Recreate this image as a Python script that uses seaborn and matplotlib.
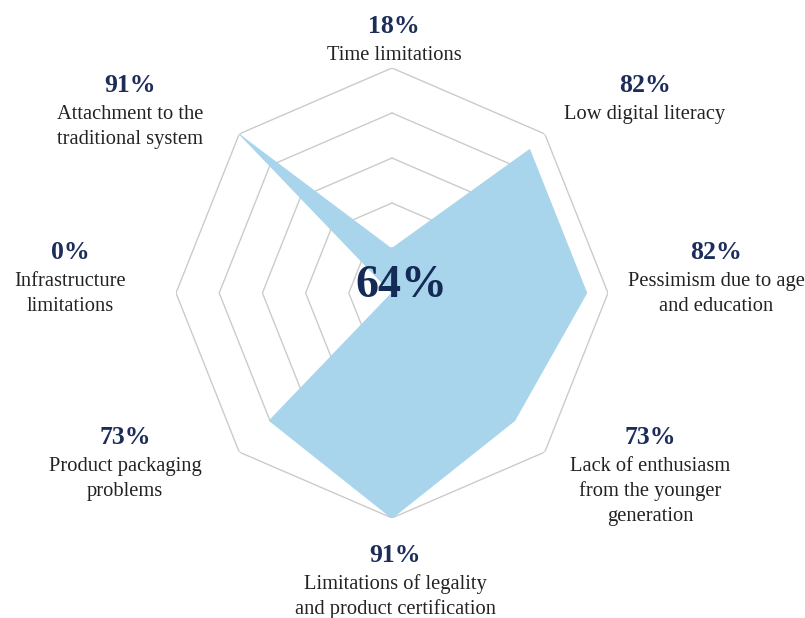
import numpy as np
import pandas as pd
import matplotlib
matplotlib.use("Agg")
import matplotlib.pyplot as plt
import seaborn as sns

# ---- data ----
categories = [
    "Time limitations",
    "Low digital literacy",
    "Pessimism due to age\nand education",
    "Lack of enthusiasm\nfrom the younger\ngeneration",
    "Limitations of legality\nand product certification",
    "Product packaging\nproblems",
    "Infrastructure\nlimitations",
    "Attachment to the\ntraditional system",
]
values = [18, 82, 82, 73, 91, 73, 0, 91]
pct_labels = ["18%", "82%", "82%", "73%", "91%", "73%", "0%", "91%"]
center_label = "64%"
n_rings = 5

sns.set_theme(style="white")
plt.rcParams["font.family"] = ["Liberation Serif", "DejaVu Serif"]

W, H = 805, 618
fig = plt.figure(figsize=(W / 100, H / 100), dpi=100)
fig.patch.set_facecolor("white")

cx, rx = 392, 216
top_px, bot_px = 68, 518
ax = fig.add_axes([(cx - rx) / W, (H - bot_px) / H, 2 * rx / W, (bot_px - top_px) / H],
                  projection="polar")
ax.set_aspect("auto")
ax.set_theta_zero_location("N")
ax.set_theta_direction(-1)
rmax = max(values)
ax.set_ylim(0, rmax)

n = len(categories)
theta = np.linspace(0, 2 * np.pi, n, endpoint=False)
theta_c = np.append(theta, theta[0])

# octagonal grid rings
for k in range(1, n_rings + 1):
    r = rmax * k / n_rings
    ax.plot(theta_c, np.full(n + 1, r), color="#cbcbcb", lw=1.0, zorder=1)

df = pd.DataFrame({"theta": theta_c, "value": values + [values[0]]})
ax.fill(df["theta"], df["value"], color="#a8d5eb", zorder=2, lw=0)
sns.lineplot(data=df, x="theta", y="value", sort=False, ax=ax, color="#a8d5eb",
             lw=0.8, zorder=3, legend=False)

ax.grid(False)
ax.set_xticks([])
ax.set_yticks([])
ax.set_xlabel("")
ax.set_ylabel("")
ax.spines["polar"].set_visible(False)
ax.patch.set_alpha(0)

# label placement (pixel anchors: center x, baseline of percentage)
anchors = [(394, 33), (645, 92), (716, 259), (650, 444), (395, 562), (125, 444), (70, 259), (130, 92)]
pct_color = "#1c2d5a"
txt_color = "#222222"
line_gap = 25
first_gap = 27

def fx(x):
    return x / W

def fy(y):
    return 1 - y / H

for (x, y), pct, cat in zip(anchors, pct_labels, categories):
    fig.text(fx(x), fy(y), pct, ha="center", va="baseline", fontsize=18.5,
             fontweight="bold", color=pct_color)
    for i, line in enumerate(cat.split("\n")):
        fig.text(fx(x), fy(y + first_gap + i * line_gap), line, ha="center",
                 va="baseline", fontsize=14.8, color=txt_color)

fig.text(fx(401), fy(297), center_label, ha="center", va="baseline", fontsize=33,
         fontweight="bold", color="#142b58", zorder=10)

fig.savefig("out.png", dpi=100, facecolor="white")
